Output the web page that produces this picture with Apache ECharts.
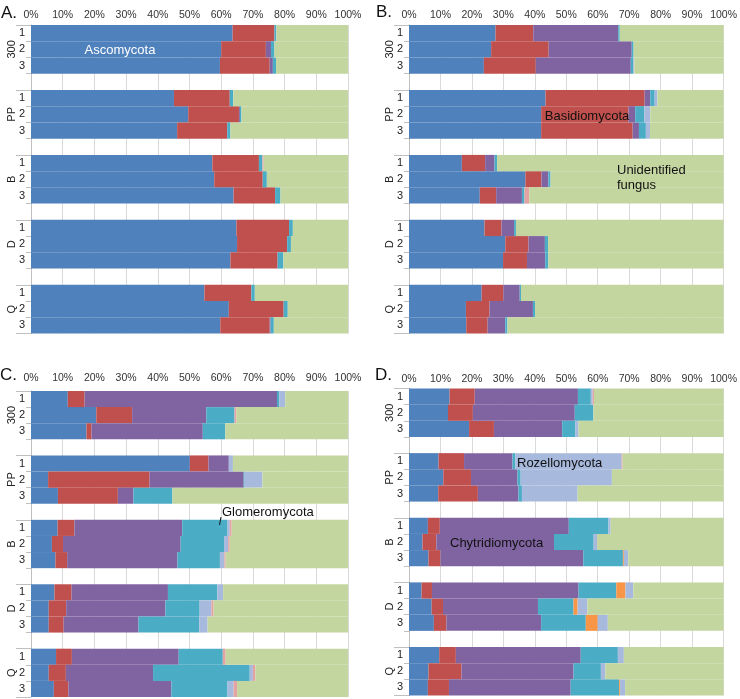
<!DOCTYPE html>
<html><head><meta charset="utf-8">
<script src="https://cdn.jsdelivr.net/npm/echarts@6/dist/echarts.min.js"></script>
<style>html,body{margin:0;padding:0;background:#fff}#c{width:740px;height:699px}</style>
</head><body><div id="c"></div>
<script>
// Groups and replicates
var groups = ['300', 'PP', 'B', 'D', 'Q'];
var reps = ['1', '2', '3'];
var tickLabels = ['0%','10%','20%','30%','40%','50%','60%','70%','80%','90%','100%'];
var seriesNames = ['Blue','Red','Purple','Teal','Orange','LightBlue','Pink','Green'];
var colors = ['#4F81BD','#C0504D','#8064A2','#4BACC6','#F79646','#A7B9DC','#E2A3A2','#C4D6A0'];

// Panel A (15 bars: 300-1..3, PP-1..3, B-1..3, D-1..3, Q-1..3)
var A_blue   = [63.6,60.0,59.6, 45.1,49.6,46.1, 57.2,57.8,63.9, 64.8,65.0,62.9, 54.7,62.4,59.7];
var A_red    = [13.2,14.1,15.7, 17.6,16.0,15.8, 14.7,15.3,13.1, 16.6,15.8,14.9, 14.8,17.3,15.6];
var A_purple = [0,1.6,1.0, 0,0.3,0, 0,0,0, 0,0,0, 0,0,0.3];
var A_teal   = [0.6,1.1,1.0, 1.1,0.5,1.0, 1.1,1.3,1.7, 1.2,1.2,1.8, 1.1,1.3,1.0];
var A_orange = [0,0,0, 0,0,0, 0,0,0, 0,0,0, 0,0,0];
var A_lblue  = [0,0,0, 0,0,0, 0,0,0, 0,0,0, 0,0,0];
var A_pink   = [0,0,0, 0,0,0, 0.4,0,0, 0,0,0, 0,0,0];
var A_green  = [22.6,23.2,22.7, 36.2,33.6,37.1, 26.6,25.6,21.3, 17.4,18.0,20.4, 29.4,19.0,23.4];

// Panel B
var B_blue   = [27.5,26.1,23.8, 43.4,42.0,42.0, 16.8,37.0,22.5, 24.0,30.6,29.9, 23.1,18.1,18.2];
var B_red    = [12.0,18.3,16.5, 31.5,27.8,29.1, 7.4,5.1,5.2, 5.4,7.4,7.6, 6.9,7.5,6.8];
var B_purple = [27.0,26.4,30.2, 1.8,2.1,2.0, 3.0,2.2,8.2, 4.0,5.2,5.8, 5.2,13.8,5.6];
var B_teal   = [0.5,0.6,0.8, 1.4,2.9,2.2, 0.8,0.7,0.8, 0.6,1.0,1.0, 0.4,0.7,0.7];
var B_orange = [0,0,0, 0,0,0, 0,0,0, 0,0,0, 0,0,0];
var B_lblue  = [0,0,0.3, 0.9,1.9,1.3, 0,0,0, 0,0,0, 0,0,0];
var B_pink   = [0,0,0, 0,0,0, 0,0,1.5, 0,0,0, 0,0,0];
var B_green  = [33.0,28.6,28.4, 21.0,23.3,23.4, 72.0,55.0,61.8, 66.0,55.8,55.7, 64.4,59.9,68.7];

// Panel C
var C_blue   = [11.6,20.6,17.5, 50.1,5.4,8.5, 8.4,6.6,7.7, 7.4,5.6,5.6, 7.9,5.6,7.2];
var C_red    = [5.3,11.3,1.6, 5.9,32.0,18.9, 5.3,3.5,3.7, 5.4,5.5,4.7, 5.0,5.4,4.6];
var C_purple = [60.7,23.4,35.1, 6.4,29.7,4.9, 34.0,37.1,34.8, 30.4,31.3,23.6, 33.7,27.5,32.5];
var C_teal   = [0.7,8.9,7.1, 0,0.3,12.3, 14.3,13.7,13.4, 15.6,10.8,19.2, 13.9,30.5,17.7];
var C_orange = [0,0,0, 0,0,0, 0,0,0, 0,0,0, 0,0,0];
var C_lblue  = [1.9,0,0, 1.3,5.6,0, 0.7,1.3,1.4, 1.8,3.7,2.6, 0,1.0,1.9];
var C_pink   = [0,0.6,0, 0,0,0, 0.6,0.5,0.4, 0,0.7,0, 0.9,0.8,1.1];
var C_green  = [19.8,35.2,38.7, 36.3,27.0,55.4, 36.7,37.3,38.6, 39.4,42.4,44.3, 38.6,29.2,35.0];

// Panel D
var D_blue   = [12.9,12.4,19.1, 9.4,10.9,9.3, 6.0,4.3,6.2, 4.0,7.2,7.9, 9.6,6.2,6.0];
var D_red    = [8.0,7.9,7.9, 8.1,8.8,12.6, 3.8,4.4,3.8, 3.3,3.6,4.0, 5.3,10.5,6.7];
var D_purple = [32.8,32.4,21.7, 15.4,14.8,12.9, 41.0,37.4,45.4, 46.6,30.2,30.1, 39.7,35.6,38.7];
var D_teal   = [4.1,5.9,4.2, 0.9,1.0,1.1, 12.6,12.6,12.6, 12.0,11.3,14.2, 11.8,8.7,15.4];
var D_orange = [0,0,0, 0,0,0, 0,0,0.3, 2.9,1.3,3.8, 0,0,0.3];
var D_lblue  = [0.6,0,1.0, 33.8,29.0,17.7, 0.7,1.1,1.4, 2.5,3.1,3.2, 1.9,1.4,1.6];
var D_pink   = [0.4,0,0, 0.3,0,0, 0,0,0, 0,0,0, 0,0,0];
var D_green  = [41.2,41.4,46.1, 32.1,35.5,46.4, 35.9,40.2,30.3, 28.7,43.3,36.8, 31.7,37.6,31.3];

var panels = [
  {key:'A', title:'A.', data:[A_blue,A_red,A_purple,A_teal,A_orange,A_lblue,A_pink,A_green],
   grid:{left:31, top:25, width:317, height:308.5}, xMargin:4, titlePos:[1,5]},
  {key:'B', title:'B.', data:[B_blue,B_red,B_purple,B_teal,B_orange,B_lblue,B_pink,B_green],
   grid:{left:409, top:25, width:317, height:308.5}, xMargin:4, titlePos:[376,4]},
  {key:'C', title:'C.', data:[C_blue,C_red,C_purple,C_teal,C_orange,C_lblue,C_pink,C_green],
   grid:{left:31, top:391, width:317, height:306}, xMargin:7, titlePos:[0,367]},
  {key:'D', title:'D.', data:[D_blue,D_red,D_purple,D_teal,D_orange,D_lblue,D_pink,D_green],
   grid:{left:409, top:388.5, width:317, height:307}, xMargin:4, titlePos:[375,367]}
];

// Slot categories: 3 bars per group followed by a spacer
var slots = [], outerLabels = [];
groups.forEach(function(g, gi){
  reps.forEach(function(r, ri){ slots.push(g + '-' + r); outerLabels.push(ri === 1 ? g : ''); });
  if (gi < groups.length - 1) { slots.push('gap' + gi); outerLabels.push(''); }
});
function toSlots(arr){
  var out = [], k = 0;
  slots.forEach(function(s){ out.push(s.indexOf('gap') === 0 ? null : arr[k++]); });
  return out;
}

var FONT = '"Liberation Sans", Arial, sans-serif';
var option = {animation:false, backgroundColor:'#fff', textStyle:{fontFamily:FONT},
  grid:[], xAxis:[], yAxis:[], series:[], graphic:[]};

panels.forEach(function(p, pi){
  option.grid.push(p.grid);
  option.xAxis.push({gridIndex:pi, type:'value', min:0, max:100, interval:10, position:'top',
    axisLine:{show:false}, axisTick:{show:false},
    axisLabel:{formatter:function(v){return tickLabels[Math.round(v/10)];}, fontSize:10.5, color:'#333', margin:p.xMargin, fontFamily:FONT},
    splitLine:{show:true, lineStyle:{color:'#D9D9D9', width:1}}});
  // inner axis (replicates)
  option.yAxis.push({gridIndex:pi, type:'category', inverse:true, data:slots, position:'left',
    axisLine:{show:true, lineStyle:{color:'#BFBFBF'}},
    axisTick:{show:true, interval:0, length:5, lineStyle:{color:'#BFBFBF'}},
    axisLabel:{interval:0, fontSize:11, color:'#222', margin:6, fontFamily:FONT,
      formatter:function(v){return v.indexOf('gap')===0 ? '' : v.split('-')[1];}}});
  // outer axis (groups)
  option.yAxis.push({gridIndex:pi, type:'category', inverse:true, data:outerLabels.map(function(l,i){return l || (' '+i);}), position:'left',
    axisLine:{show:false},
    axisTick:{show:true, length:15, lineStyle:{color:'#BFBFBF'},
      interval:function(i){return i % 4 === 0;}},
    axisLabel:{interval:0, rotate:90, fontSize:11, color:'#222', margin:14, fontFamily:FONT,
      formatter:function(v){return v.charAt(0)===' ' ? '' : v;}}});
  p.data.forEach(function(arr, si){
    option.series.push({type:'bar', name:seriesNames[si], xAxisIndex:pi, yAxisIndex:pi*2,
      stack:'s'+pi, barWidth:'100%', data:toSlots(arr), itemStyle:{color:colors[si]}, silent:true});
  });
  option.graphic.push({type:'text', left:p.titlePos[0], top:p.titlePos[1], z:100,
    style:{text:p.title, fontSize:17, fill:'#111', font:'17px ' + FONT}});
});

// Annotations
function note(txt, x, y, color, align){
  option.graphic.push({type:'text', x:x, y:y, z:100, zlevel:1,
    style:{text:txt, fill:color, font:'13px ' + FONT, align:align||'left', verticalAlign:'middle', lineHeight:15}});
}
note('Ascomycota', 120, 50, '#ffffff', 'center');
note('Basidiomycota', 587, 116, '#111', 'center');
note('Unidentified\nfungus', 617, 178, '#111');
note('Glomeromycota', 222, 512, '#111');
note('Rozellomycota', 517, 463, '#111');
note('Chytridiomycota', 450, 543, '#111');
option.graphic.push({type:'line', z:100, zlevel:1, shape:{x1:221, y1:517, x2:219.5, y2:525}, style:{stroke:'#111', lineWidth:1}});

var chart = echarts.init(document.getElementById('c'), null, {renderer:'canvas'});
chart.setOption(option);
</script></body></html>
